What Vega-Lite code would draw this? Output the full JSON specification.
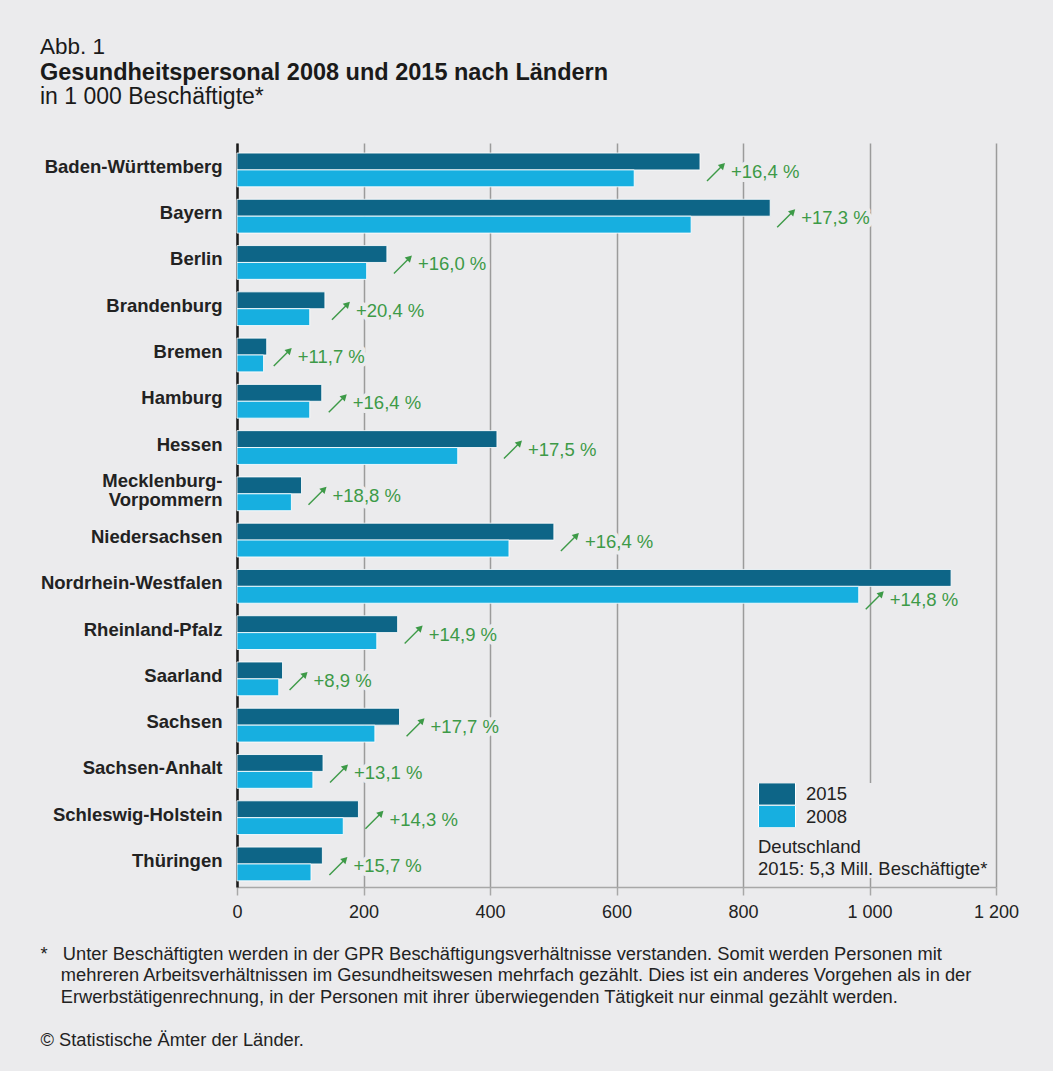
{
  "$schema": "https://vega.github.io/schema/vega-lite/v6.json",
  "background": "#ebebed",
  "padding": {"left": 40, "top": 35, "right": 38, "bottom": 30},
  "title": {"text": "Abb. 1", "anchor": "start", "frame": "bounds", "fontSize": 22.5, "fontWeight": "normal", "font": "Liberation Sans", "color": "#1a1a1a", "offset": 3},
  "config": {
    "font": "Liberation Sans",
    "view": {"stroke": null},
    "axisY": {"domainColor": "#1a1a1a", "domainWidth": 2.5, "ticks": false, "labelPadding": 15, "labelFontWeight": "bold", "labelFontSize": 18.5, "labelColor": "#222222", "grid": false, "labelLineHeight": 19, "labelLimit": 300, "zindex": 1},
    "axisX": {"grid": true, "gridColor": "#9b9b9b", "gridWidth": 1.5, "domainColor": "#a8a8a8", "domainWidth": 1.5, "tickColor": "#a8a8a8", "tickWidth": 1.5, "tickSize": 8, "labelPadding": 8, "labelFontSize": 18, "labelColor": "#222222", "labelFlush": false}
  },
  "data": {"values": [
    {"state": "Baden-Württemberg", "year": "2015", "value": 732, "change": "+16,4 %"},
    {"state": "Baden-Württemberg", "year": "2008", "value": 628, "change": "+16,4 %"},
    {"state": "Bayern", "year": "2015", "value": 843, "change": "+17,3 %"},
    {"state": "Bayern", "year": "2008", "value": 718, "change": "+17,3 %"},
    {"state": "Berlin", "year": "2015", "value": 237, "change": "+16,0 %"},
    {"state": "Berlin", "year": "2008", "value": 205, "change": "+16,0 %"},
    {"state": "Brandenburg", "year": "2015", "value": 139, "change": "+20,4 %"},
    {"state": "Brandenburg", "year": "2008", "value": 115, "change": "+20,4 %"},
    {"state": "Bremen", "year": "2015", "value": 47, "change": "+11,7 %"},
    {"state": "Bremen", "year": "2008", "value": 42, "change": "+11,7 %"},
    {"state": "Hamburg", "year": "2015", "value": 134, "change": "+16,4 %"},
    {"state": "Hamburg", "year": "2008", "value": 115, "change": "+16,4 %"},
    {"state": "Hessen", "year": "2015", "value": 411, "change": "+17,5 %"},
    {"state": "Hessen", "year": "2008", "value": 349, "change": "+17,5 %"},
    {"state": "Mecklenburg-Vorpommern", "year": "2015", "value": 102, "change": "+18,8 %"},
    {"state": "Mecklenburg-Vorpommern", "year": "2008", "value": 86, "change": "+18,8 %"},
    {"state": "Niedersachsen", "year": "2015", "value": 501, "change": "+16,4 %"},
    {"state": "Niedersachsen", "year": "2008", "value": 430, "change": "+16,4 %"},
    {"state": "Nordrhein-Westfalen", "year": "2015", "value": 1129, "change": "+14,8 %"},
    {"state": "Nordrhein-Westfalen", "year": "2008", "value": 983, "change": "+14,8 %"},
    {"state": "Rheinland-Pfalz", "year": "2015", "value": 254, "change": "+14,9 %"},
    {"state": "Rheinland-Pfalz", "year": "2008", "value": 221, "change": "+14,9 %"},
    {"state": "Saarland", "year": "2015", "value": 72, "change": "+8,9 %"},
    {"state": "Saarland", "year": "2008", "value": 66, "change": "+8,9 %"},
    {"state": "Sachsen", "year": "2015", "value": 257, "change": "+17,7 %"},
    {"state": "Sachsen", "year": "2008", "value": 218, "change": "+17,7 %"},
    {"state": "Sachsen-Anhalt", "year": "2015", "value": 136, "change": "+13,1 %"},
    {"state": "Sachsen-Anhalt", "year": "2008", "value": 120, "change": "+13,1 %"},
    {"state": "Schleswig-Holstein", "year": "2015", "value": 192, "change": "+14,3 %"},
    {"state": "Schleswig-Holstein", "year": "2008", "value": 168, "change": "+14,3 %"},
    {"state": "Thüringen", "year": "2015", "value": 135, "change": "+15,7 %"},
    {"state": "Thüringen", "year": "2008", "value": 117, "change": "+15,7 %"}
  ]},
  "vconcat": [
    {
      "title": {"text": "Gesundheitspersonal 2008 und 2015 nach Ländern", "subtitle": "in 1 000 Beschäftigte*", "anchor": "start", "frame": "bounds", "fontSize": 23.5, "fontWeight": "bold", "color": "#1a1a1a", "subtitleFontSize": 23, "subtitleColor": "#1a1a1a", "subtitlePadding": 1.5, "offset": 34},
      "width": 759,
      "height": 744,
      "encoding": {
        "y": {"field": "state", "type": "nominal", "sort": null, "scale": {"paddingInner": 0.27, "paddingOuter": 0.175, "align": 0.62},
          "axis": {"title": null, "labelExpr": "datum.label == 'Mecklenburg-Vorpommern' ? ['Mecklenburg-', 'Vorpommern'] : datum.label",
            "labelOffset": {"condition": {"test": "datum.value == 'Mecklenburg-Vorpommern'", "value": -13}, "value": -3}}},
        "x": {"field": "value", "type": "quantitative", "scale": {"domain": [0, 1200]},
          "axis": {"values": [0, 200, 400, 600, 800, 1000, 1200], "labelExpr": "replace(format(datum.value, ','), ',', ' ')",
            "title": ["*\u00a0\u00a0\u00a0Unter Beschäftigten werden in der GPR Beschäftigungsverhältnisse verstanden. Somit werden Personen mit", "\u200b\u00a0\u00a0\u00a0\u00a0mehreren Arbeitsverhältnissen im Gesundheitswesen mehrfach gezählt. Dies ist ein anderes Vorgehen als in der", "\u200b\u00a0\u00a0\u00a0\u00a0Erwerbstätigenrechnung, in der Personen mit ihrer überwiegenden Tätigkeit nur einmal gezählt werden.", "\u200b\u00a0", "© Statistische Ämter der Länder."],
            "titleFontSize": 18.3, "titleFontWeight": "normal", "titleColor": "#222222", "titleAnchor": "start", "titleAlign": "left", "titleBaseline": "alphabetic", "titleX": -197, "titleY": 72, "titleLineHeight": 21.7, "titleLimit": 2000}}
      },
      "layer": [
        {
          "mark": {"type": "bar", "stroke": "#ffffff", "strokeWidth": 1, "strokeOpacity": 0.85},
          "encoding": {
            "yOffset": {"field": "year", "type": "nominal", "sort": ["2015", "2008"], "scale": {"paddingInner": 0, "paddingOuter": 0}},
            "color": {"field": "year", "type": "nominal", "scale": {"domain": ["2015", "2008"], "range": ["#0d6587", "#17afe0"]},
              "legend": {"orient": "none", "legendX": 521, "legendY": 640, "title": ["Deutschland", "2015: 5,3 Mill. Beschäftigte*"], "titleOrient": "bottom", "titleAnchor": "start", "titleFontWeight": "normal", "titleFontSize": 18.5, "titleLineHeight": 21.5, "titlePadding": 10, "titleLimit": 400, "titleColor": "#222222", "labelFontSize": 18.5, "labelColor": "#222222", "labelOffset": 10, "symbolType": "M-1,-0.6H1V0.6H-1Z", "symbolSize": 1369, "symbolStrokeColor": "#ffffff", "symbolStrokeWidth": 1, "symbolOpacity": 1, "clipHeight": 22, "rowPadding": 0.5, "fillColor": "#ebebed", "padding": 0}}
          }
        },
        {
          "transform": [{"filter": "datum.year == '2015' && datum.state != 'Nordrhein-Westfalen'"}],
          "mark": {"type": "text", "align": "left", "baseline": "middle", "dx": 31, "dy": 2, "fontSize": 18.5, "fill": "#ebebed", "stroke": "#ebebed", "strokeWidth": 8, "strokeJoin": "round"},
          "encoding": {"text": {"field": "change"}}
        },
        {
          "transform": [{"filter": "datum.year == '2015' && datum.state != 'Nordrhein-Westfalen'"}],
          "mark": {"type": "text", "align": "left", "baseline": "middle", "dx": 31, "dy": 2, "fontSize": 18.5, "color": "#3d9a47"},
          "encoding": {"text": {"field": "change"}}
        },
        {
          "transform": [{"filter": "datum.year == '2015' && datum.state != 'Nordrhein-Westfalen'"}],
          "mark": {"type": "point", "shape": "M-1,1L0.75,-0.75", "filled": false, "color": "#3d9a47", "stroke": "#3d9a47", "strokeWidth": 1.4, "size": 324, "opacity": 1, "xOffset": 16, "yOffset": 2}
        },
        {
          "transform": [{"filter": "datum.year == '2015' && datum.state != 'Nordrhein-Westfalen'"}],
          "mark": {"type": "point", "shape": "M1,-1L0.2,-0.78L0.78,-0.2Z", "filled": true, "color": "#3d9a47", "strokeWidth": 0, "size": 324, "opacity": 1, "xOffset": 16, "yOffset": 2}
        },
        {
          "transform": [{"filter": "datum.year == '2008' && datum.state == 'Nordrhein-Westfalen'"}],
          "mark": {"type": "text", "align": "left", "baseline": "middle", "dx": 31, "dy": 14, "fontSize": 18.5, "fill": "#ebebed", "stroke": "#ebebed", "strokeWidth": 8, "strokeJoin": "round"},
          "encoding": {"text": {"field": "change"}}
        },
        {
          "transform": [{"filter": "datum.year == '2008' && datum.state == 'Nordrhein-Westfalen'"}],
          "mark": {"type": "text", "align": "left", "baseline": "middle", "dx": 31, "dy": 14, "fontSize": 18.5, "color": "#3d9a47"},
          "encoding": {"text": {"field": "change"}}
        },
        {
          "transform": [{"filter": "datum.year == '2008' && datum.state == 'Nordrhein-Westfalen'"}],
          "mark": {"type": "point", "shape": "M-1,1L0.75,-0.75", "filled": false, "color": "#3d9a47", "stroke": "#3d9a47", "strokeWidth": 1.4, "size": 324, "opacity": 1, "xOffset": 16, "yOffset": 14}
        },
        {
          "transform": [{"filter": "datum.year == '2008' && datum.state == 'Nordrhein-Westfalen'"}],
          "mark": {"type": "point", "shape": "M1,-1L0.2,-0.78L0.78,-0.2Z", "filled": true, "color": "#3d9a47", "strokeWidth": 0, "size": 324, "opacity": 1, "xOffset": 16, "yOffset": 14}
        }
      ]
    }
  ]
}
